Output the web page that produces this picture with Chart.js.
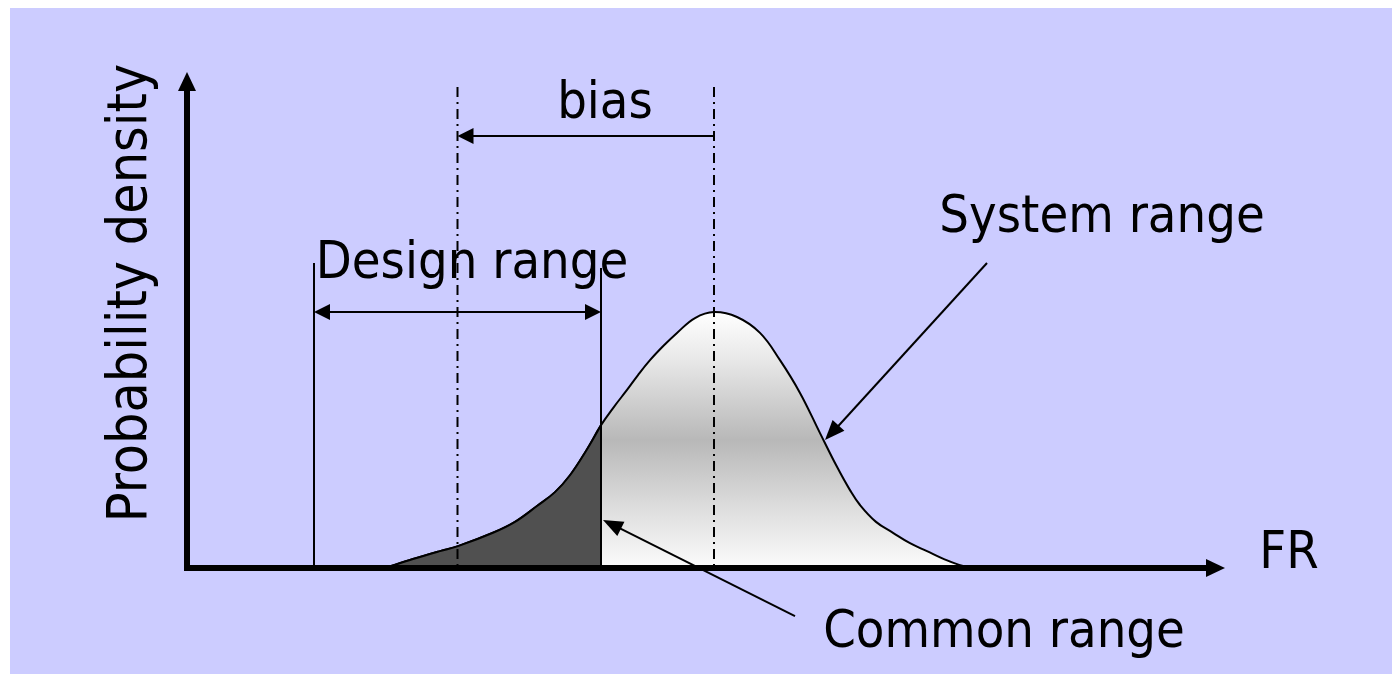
<!DOCTYPE html>
<html>
<head>
<meta charset="utf-8">
<script src="https://cdn.jsdelivr.net/npm/chart.js@4.4.0/dist/chart.umd.min.js"></script>
<style>
    html, body { margin: 0; padding: 0; background: #ffffff; }
    #wrap { width: 1392px; height: 674px; }
</style>
</head>
<body>
<div id="wrap"><canvas id="densityChart" width="1392" height="674"></canvas></div>
<script>
// FR values (x) and probability density of the system range (y)
const frValues = [19.8, 22.6, 25.3, 27.1, 30.6, 32.8, 35.0, 36.8, 38.3, 39.9, 41.4,
                  42.7, 44.0, 45.1, 46.3, 47.7, 49.0, 50.8, 52.7, 55.0, 57.3, 59.3,
                  61.3, 63.3, 65.0, 66.3, 67.3, 68.9, 70.6, 72.3, 74.0, 75.7, 77.6, 78.8];
const systemDensity = [0, 1.8, 3.4, 4.4, 7.1, 9.3, 12.5, 15.3, 18.7, 23.6, 28.8,
                       32.5, 35.9, 38.9, 41.9, 44.9, 47.4, 50.4, 51.6, 50.6, 47.4, 41.9,
                       35.3, 27.2, 20.4, 15.7, 12.7, 9.3, 7.1, 5.0, 3.4, 1.8, 0.4, 0];

// design range limits and system mean, on the FR axis
const designRange = [12.7, 41.4];
const systemMean = 52.7;

const axisTitles = ['FR', 'Probability density'];
const labels = ['bias', 'Design range', 'System range', 'Common range'];

const systemPoints = frValues.map((v, i) => ({ x: v, y: systemDensity[i] }));
// common range = part of the system curve that lies inside the design range
const commonPoints = systemPoints.filter(p => p.x <= designRange[1]);

const FONT = '"DejaVu Sans Condensed", "DejaVu Sans", sans-serif';

function arrowHead(ctx, tipX, tipY, fromX, fromY, len, half) {
    const ang = Math.atan2(tipY - fromY, tipX - fromX);
    ctx.beginPath();
    ctx.moveTo(tipX, tipY);
    ctx.lineTo(tipX - len * Math.cos(ang) + half * Math.sin(ang), tipY - len * Math.sin(ang) - half * Math.cos(ang));
    ctx.lineTo(tipX - len * Math.cos(ang) - half * Math.sin(ang), tipY - len * Math.sin(ang) + half * Math.cos(ang));
    ctx.closePath();
    ctx.fill();
}

function line(ctx, x1, y1, x2, y2) {
    ctx.beginPath();
    ctx.moveTo(x1, y1);
    ctx.lineTo(x2, y2);
    ctx.stroke();
}

const diagramPlugin = {
    id: 'diagram',
    beforeDraw(chart) {
        const { ctx, width, height } = chart;
        ctx.save();
        ctx.fillStyle = '#ffffff';
        ctx.fillRect(0, 0, width, height);
        ctx.fillStyle = '#ccccff';
        ctx.fillRect(10, 8, width - 10, height - 8);
        ctx.restore();
    },
    afterDatasetsDraw(chart) {
        const { ctx, chartArea: a, scales: { x, y } } = chart;
        const y0 = y.getPixelForValue(0);
        ctx.save();
        ctx.strokeStyle = '#000';
        ctx.fillStyle = '#000';

        // dash-dot lines: design centre and system mean
        const designCentre = (designRange[0] + designRange[1]) / 2;
        ctx.lineWidth = 2;
        ctx.setLineDash([10, 5, 2, 5]);
        [designCentre, systemMean].forEach(v => {
            const px = x.getPixelForValue(v);
            line(ctx, px, y.getPixelForValue(97), px, y0);
        });
        ctx.setLineDash([]);

        // bias arrow
        const by = y.getPixelForValue(87.1);
        const bx1 = x.getPixelForValue(designCentre), bx2 = x.getPixelForValue(systemMean);
        line(ctx, bx1 + 10, by, bx2, by);
        arrowHead(ctx, bx1, by, bx2, by, 16, 8);

        // design range bracket
        const dx1 = x.getPixelForValue(designRange[0]), dx2 = x.getPixelForValue(designRange[1]);
        line(ctx, dx1, y.getPixelForValue(61.5), dx1, y0);
        line(ctx, dx2, y.getPixelForValue(60.5), dx2, y0);
        const dy = y.getPixelForValue(51.6);
        line(ctx, dx1 + 10, dy, dx2 - 10, dy);
        arrowHead(ctx, dx1, dy, dx2, dy, 16, 8);
        arrowHead(ctx, dx2, dy, dx1, dy, 16, 8);

        // pointers
        const sTip = [x.getPixelForValue(63.8), y.getPixelForValue(25.8)];
        const sFrom = [x.getPixelForValue(80.0), y.getPixelForValue(61.5)];
        line(ctx, sFrom[0], sFrom[1], sTip[0] + 6, sTip[1] - 6);
        arrowHead(ctx, sTip[0], sTip[1], sFrom[0], sFrom[1], 20, 8);
        const cTip = [x.getPixelForValue(41.6), y.getPixelForValue(9.7)];
        const cFrom = [x.getPixelForValue(60.8), y.getPixelForValue(-9.7)];
        line(ctx, cFrom[0], cFrom[1], cTip[0] + 8, cTip[1] + 4);
        arrowHead(ctx, cTip[0], cTip[1], cFrom[0], cFrom[1], 20, 8);

        // axes with arrows
        ctx.lineWidth = 6;
        line(ctx, a.left - 3, y0, a.right - 14, y0);
        arrowHead(ctx, a.right, y0, a.left, y0, 19, 9);
        line(ctx, a.left, y0 + 3, a.left, a.top + 14);
        arrowHead(ctx, a.left, a.top, a.left, y0, 19, 9);

        // texts
        ctx.font = '52px ' + FONT;
        ctx.textAlign = 'center';
        ctx.textBaseline = 'alphabetic';
        ctx.fillText(labels[0], 605, 118);
        ctx.fillText(labels[1], 472, 278);
        ctx.fillText(labels[2], 1102, 232);
        ctx.fillText(labels[3], 1004, 647);
        ctx.fillText(axisTitles[0], 1289, 568);
        ctx.font = '55px ' + FONT;
        ctx.translate(146, 293);
        ctx.rotate(-Math.PI / 2);
        ctx.fillText(axisTitles[1], 0, 0);
        ctx.restore();
    }
};

function systemFill(context) {
    const { chart } = context;
    const { ctx, chartArea, scales } = chart;
    if (!chartArea) return '#dddddd';
    const top = scales.y.getPixelForValue(51.6);
    const bottom = scales.y.getPixelForValue(0);
    const g = ctx.createLinearGradient(0, top, 0, bottom);
    g.addColorStop(0, '#ffffff');
    g.addColorStop(0.2, '#e6e6e6');
    g.addColorStop(0.5, '#b8b8b8');
    g.addColorStop(0.8, '#e2e2e2');
    g.addColorStop(1, '#fbfbfb');
    return g;
}

new Chart(document.getElementById('densityChart'), {
    type: 'line',
    data: {
        datasets: [{
            label: 'Common range',
            data: commonPoints,
            borderColor: '#000000',
            borderWidth: 2,
            backgroundColor: '#505050',
            fill: 'origin',
            pointRadius: 0,
            tension: 0.4,
            order: 0
        }, {
            label: 'System range',
            data: systemPoints,
            borderColor: '#000000',
            borderWidth: 2,
            backgroundColor: systemFill,
            fill: 'origin',
            pointRadius: 0,
            tension: 0.4,
            order: 1
        }]
    },
    options: {
        responsive: false,
        animation: false,
        layout: {
            padding: { left: 187, right: 167, top: 72, bottom: 106 }
        },
        plugins: {
            legend: { display: false },
            tooltip: { enabled: false }
        },
        scales: {
            x: { type: 'linear', min: 0, max: 103.8, display: false },
            y: { min: 0, max: 100, display: false }
        }
    },
    plugins: [diagramPlugin]
});
</script>
</body>
</html>
